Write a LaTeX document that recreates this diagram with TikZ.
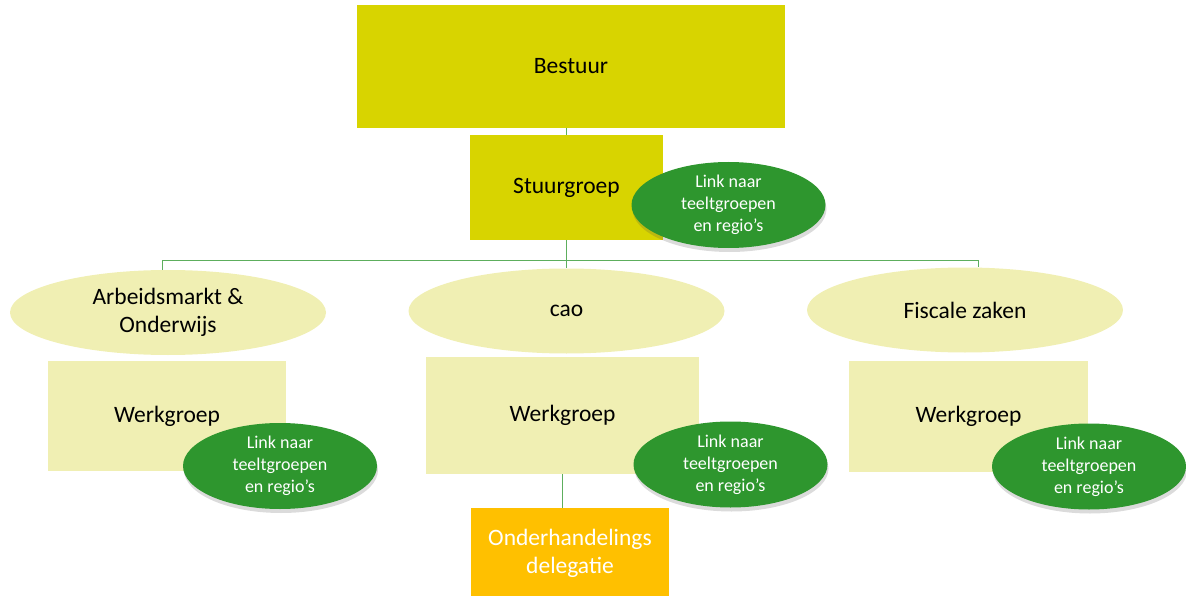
\documentclass[tikz,border=0pt]{standalone}
\usepackage{fontspec}
\setmainfont{Carlito}
\usetikzlibrary{shapes.geometric,shadows}
\definecolor{boardyellow}{HTML}{D8D400}
\definecolor{paleyellow}{HTML}{F0EFB3}
\definecolor{linkgreen}{HTML}{2E962E}
\definecolor{orangebox}{HTML}{FFC000}
\definecolor{linegreen}{HTML}{5DAE5D}
\tikzset{
  mainfont/.style={font=\fontsize{23.5}{28}\selectfont},
  darkbox/.style={rectangle, fill=boardyellow, draw=none, inner sep=0pt, mainfont, text=black},
  palebox/.style={rectangle, fill=paleyellow, draw=none, inner sep=0pt, mainfont, text=black},
  paleell/.style={ellipse, fill=paleyellow, draw=none, inner sep=0pt, minimum width=316pt, minimum height=85pt, mainfont, align=center, text=black},
  linkell/.style={ellipse, fill=linkgreen, draw=none, inner sep=0pt, minimum width=194pt, minimum height=86pt,
     font=\fontsize{18}{22}\selectfont, align=center, text=white,
     drop shadow={shadow xshift=1pt, shadow yshift=-4pt, opacity=0.2, fill=black!70}},
  orbox/.style={rectangle, fill=orangebox, draw=none, inner sep=0pt, mainfont, align=center, text=white},
  conn/.style={draw=linegreen, line width=1pt}
}
\begin{document}
\begin{tikzpicture}[x=1pt,y=-1pt]
\useasboundingbox (0,0) rectangle (1186,596);
% nodes
\node[darkbox, minimum width=428pt, minimum height=123pt] (bestuur) at (571,66.5) {\raisebox{-2pt}{Bestuur}};
\node[darkbox, minimum width=193pt, minimum height=105pt] (stuur) at (566.5,187.5) {\raisebox{-2pt}{Stuurgroep}};
\node[paleell] (arb) at (168,312.5) {Arbeidsmarkt \&\\Onderwijs};
\node[paleell] (cao) at (566.5,311) {\raisebox{-2pt}{cao}};
\node[paleell] (fis) at (965,310) {\raisebox{-2pt}{Fiscale zaken}};
\node[palebox, minimum width=238pt, minimum height=110pt] (wl) at (167,416) {\raisebox{-2pt}{Werkgroep}};
\node[palebox, minimum width=273pt, minimum height=117pt] (wm) at (562.5,415.5) {\raisebox{-2pt}{Werkgroep}};
\node[palebox, minimum width=239pt, minimum height=111pt] (wr) at (968.5,416.5) {\raisebox{-2pt}{Werkgroep}};
\node[orbox, minimum width=198pt, minimum height=90pt] (onder) at (570,553) {Onderhandelings\\delegatie};
% connectors
\coordinate (jl) at (162,260);
\coordinate (jr) at (978,260);
\draw[conn] (bestuur.south -| stuur.north) -- (stuur.north);
\draw[conn] (stuur.south) -- (cao.north);
\draw[conn] (jl) -- (jr);
\draw[conn] (jl) -- (jl |- arb.north);
\draw[conn] (jr) -- (jr |- fis.north);
\draw[conn] (wm.south) -- (wm.south |- onder.north);
% link ellipses
\node[linkell] (ls) at (728.5,205) {Link naar\\teeltgroepen\\en regio’s};
\node[linkell] (ll) at (280,466) {Link naar\\teeltgroepen\\en regio’s};
\node[linkell] (lm) at (730.5,464.5) {Link naar\\teeltgroepen\\en regio’s};
\node[linkell] (lr) at (1089,466.5) {Link naar\\teeltgroepen\\en regio’s};
\end{tikzpicture}
\end{document}
